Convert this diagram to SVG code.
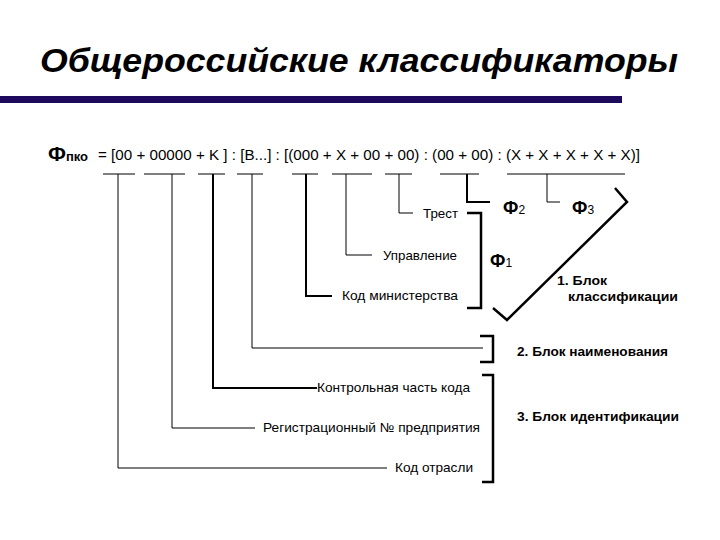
<svg xmlns="http://www.w3.org/2000/svg" width="720" height="540" viewBox="0 0 720 540">
<style>
.t{font-family:"Liberation Sans",Arial,sans-serif;fill:#000}
.title{font-size:34px;font-weight:bold;font-style:italic}
.f{font-size:15px}
.lbl{font-size:13px}
.blk{font-size:13px;font-weight:bold}
.phi{font-size:18px;font-weight:bold}
.sub{font-size:12px}
.ln{stroke:#000;stroke-width:1;fill:none}
.th{stroke:#000;stroke-width:2;fill:none}
.br{stroke:#000;stroke-width:2.5;fill:none;stroke-linejoin:miter}
</style>
<rect width="720" height="540" fill="#fff"/>
<g id="title">
<text class="t title" x="40" y="72" textLength="638" lengthAdjust="spacingAndGlyphs">Общероссийские классификаторы</text>
<rect x="0" y="96" width="622" height="7" fill="#1e0a5c"/>
</g>
<g id="formula">
<text class="t" x="48" y="161"><tspan font-size="21" font-weight="bold">Ф</tspan><tspan font-size="13" font-weight="bold">пко</tspan></text>
<text class="t f" x="98" y="160" textLength="542" lengthAdjust="spacingAndGlyphs">= [00 + 00000 + K ] : [B...] : [(000 + X + 00 + 00) : (00 + 00) : (X + X + X + X + X)]</text>
</g>
<g id="connectors">
<path class="ln" d="M103,174H135M118,174V468H387"/>
<path class="ln" d="M144,174H185M172,174V428H255"/>
<path class="ln" d="M198,174H225"/><path class="th" d="M213,174V388H317"/>
<path class="ln" d="M237,174H263M252,174V348H483"/>
<path class="ln" d="M292,174H318"/><path class="th" d="M306,174V296H332"/>
<path class="ln" d="M332,174H372M346,174V255H372"/>
<path class="ln" d="M385,174H412M399,174V213H413"/>
<path class="ln" d="M440,174H479"/><path class="th" d="M467,174V202H490"/>
<path class="ln" d="M507,174H625M547,174V202H560"/>
</g>
<g id="brackets">
<path class="br" d="M467,213H481V308H467"/>
<path class="br" d="M480,336H493V362H480"/>
<path class="br" d="M482,375H493V482H482"/>
<path class="br" d="M615,188L627,202L507,320L493,308"/>
</g>
<g id="lbl-trest"><text class="t lbl" x="423" y="218" textLength="35" lengthAdjust="spacingAndGlyphs">Трест</text></g>
<g id="lbl-upr"><text class="t lbl" x="383" y="260" textLength="74" lengthAdjust="spacingAndGlyphs">Управление</text></g>
<g id="lbl-min"><text class="t lbl" x="342" y="300" textLength="116" lengthAdjust="spacingAndGlyphs">Код министерства</text></g>
<g id="lbl-ctrl"><text class="t lbl" x="317" y="392" textLength="153" lengthAdjust="spacingAndGlyphs">Контрольная часть кода</text></g>
<g id="lbl-reg"><text class="t lbl" x="263" y="432" textLength="217" lengthAdjust="spacingAndGlyphs">Регистрационный № предприятия</text></g>
<g id="lbl-otr"><text class="t lbl" x="395" y="472" textLength="78" lengthAdjust="spacingAndGlyphs">Код отрасли</text></g>
<g id="phi2"><text class="t" x="503" y="214"><tspan class="phi">Ф</tspan><tspan class="sub">2</tspan></text></g>
<g id="phi3"><text class="t" x="572" y="214"><tspan class="phi">Ф</tspan><tspan class="sub">3</tspan></text></g>
<g id="phi1"><text class="t" x="490" y="267"><tspan class="phi">Ф</tspan><tspan class="sub">1</tspan></text></g>
<g id="blk1">
<text class="t blk" x="557" y="285" textLength="50" lengthAdjust="spacingAndGlyphs">1. Блок</text>
<text class="t blk" x="568" y="301" textLength="110" lengthAdjust="spacingAndGlyphs">классификации</text>
</g>
<g id="blk2"><text class="t blk" x="517" y="356" textLength="151" lengthAdjust="spacingAndGlyphs">2. Блок наименования</text></g>
<g id="blk3"><text class="t blk" x="517" y="421" textLength="162" lengthAdjust="spacingAndGlyphs">3. Блок идентификации</text></g>
</svg>
